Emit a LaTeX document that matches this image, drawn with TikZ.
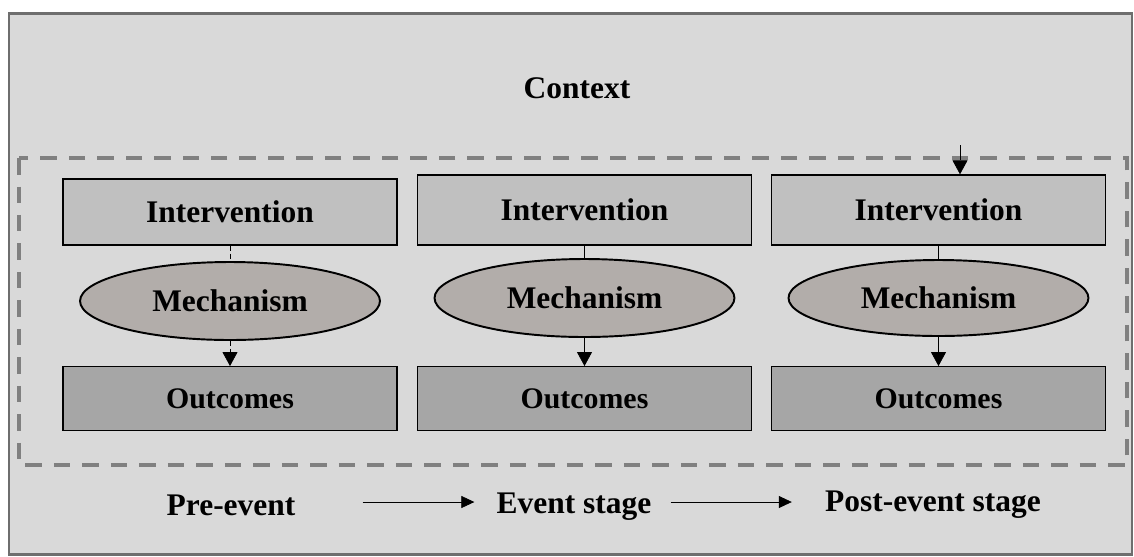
\documentclass[tikz,border=0pt]{standalone}
\usepackage{fontspec}
\setmainfont{Liberation Serif}
\usetikzlibrary{arrows.meta, shapes.geometric}
\definecolor{ctxbg}{HTML}{D9D9D9}
\definecolor{ctxframe}{HTML}{6E6E6E}
\definecolor{stagedash}{HTML}{808080}
\definecolor{intfill}{HTML}{C0C0C0}
\definecolor{mechfill}{HTML}{B2ADAA}
\definecolor{outfill}{HTML}{A6A6A6}

\begin{document}
\begin{tikzpicture}[
    x=0.02cm, y=-0.02cm,
    >={Triangle[length=0.28cm,width=0.3cm]},
    font=\fontsize{17.9}{20}\selectfont\bfseries,
    intbox/.style={draw, thick, fill=intfill, minimum width=6.68cm, minimum height=1.4cm, inner sep=0pt},
    mechbox/.style={draw, line width=1.1pt, fill=mechfill, ellipse, minimum width=6.0cm, minimum height=1.56cm, inner sep=0pt},
    outbox/.style={draw, thick, fill=outfill, minimum width=6.68cm, minimum height=1.27cm, inner sep=0pt, font=\fontsize{17}{19}\selectfont\bfseries},
    stagelabel/.style={inner sep=0pt},
    stagearrow/.style={->, >={Triangle[length=0.26cm,width=0.24cm]}},
    weaklink/.style={dash pattern=on 0.1cm off 0.06cm}
]
    \useasboundingbox (0,0) rectangle (1134,556);
    \draw[ctxframe, line width=1.7pt, fill=ctxbg] (9,13) rectangle (1132,554);
    \draw[stagedash, line width=2.3pt, dash pattern=on 0.33cm off 0.24cm] (19,158) rectangle (1127,465);

    \node[stagelabel] (ctx) at (577,88) {Context};

    % column 1
    \node[intbox, minimum height=1.32cm] (int1) at (230,212) {Intervention};
    \node[mechbox] (mech1) at (230,301) {Mechanism};
    \node[outbox] (out1) at (230,398.5) {Outcomes};
    % column 2
    \node[intbox] (int2) at (584.5,210) {Intervention};
    \node[mechbox] (mech2) at (584.5,298) {Mechanism};
    \node[outbox] (out2) at (584.5,398.5) {Outcomes};
    % column 3
    \node[intbox] (int3) at (938.5,210) {Intervention};
    \node[mechbox, minimum height=1.52cm] (mech3) at (938.5,298) {Mechanism};
    \node[outbox] (out3) at (938.5,398.5) {Outcomes};

    \draw[weaklink] (int1.south) -- (mech1.north);
    \draw[->, weaklink] (mech1.south) -- (out1.north);
    \draw (int2.south) -- (mech2.north);
    \draw[->] (mech2.south) -- (out2.north);
    \draw (int3.south) -- (mech3.north);
    \draw[->] (mech3.south) -- (out3.north);

    \coordinate (ctxin) at (960,145);
    \draw[->] (ctxin) -- (ctxin |- int3.north);

    % stages
    \node[stagelabel] (pre) at (231,505) {Pre-event};
    \node[stagelabel] (evt) at (574,507) {Event stage};
    \node[stagelabel] (post) at (933,505) {Post-event stage};
    \draw[stagearrow, shorten <=1.34cm, shorten >=0.44cm] ([yshift=0.06cm]pre.east) -- ([yshift=0.06cm]pre.east -| evt.west);
    \draw[stagearrow, shorten <=0.38cm, shorten >=0.66cm] ([yshift=0.1cm]evt.east) -- ([yshift=0.1cm]evt.east -| post.west);
\end{tikzpicture}
\end{document}
